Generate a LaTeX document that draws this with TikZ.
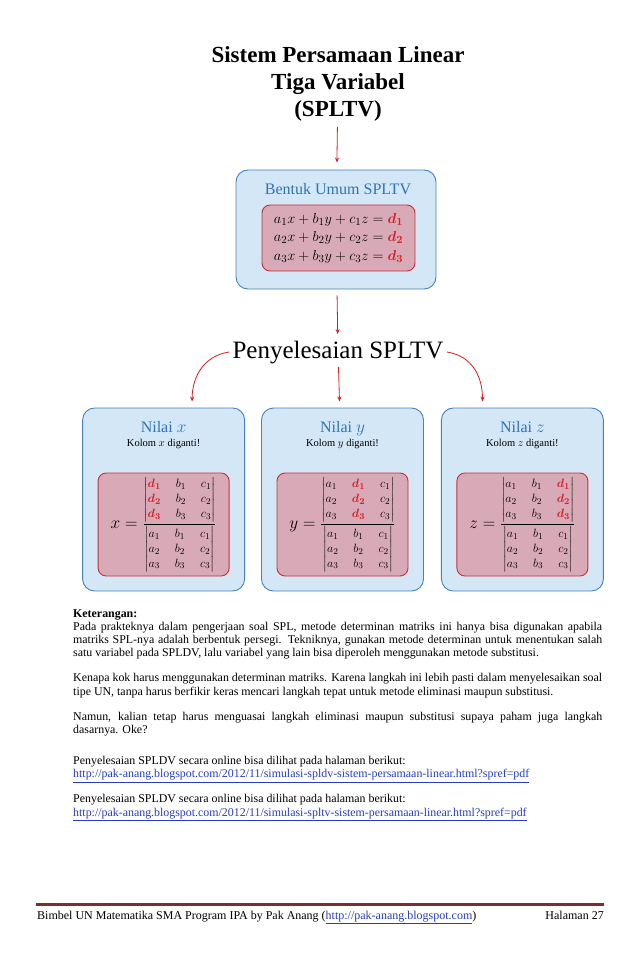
\documentclass[tikz,border=0pt]{standalone}
\usepackage{fontspec}
\setmainfont{Liberation Serif}
\usepackage{amsmath, amssymb}
\usetikzlibrary{positioning, arrows.meta, calc}

\definecolor{birumuda}{RGB}{212,231,246}
\definecolor{birugaris}{RGB}{70,130,190}
\definecolor{birujudul}{RGB}{46,116,181}
\definecolor{merahmuda}{RGB}{216,170,184}
\definecolor{merahgaris}{RGB}{205,45,55}
\definecolor{merahpanah}{RGB}{215,30,35}
\definecolor{tautanbiru}{RGB}{40,60,190}
\definecolor{coklat}{RGB}{125,45,45}

\newcommand{\dm}[1]{\textcolor{merahpanah}{\boldsymbol{d}_{\boldsymbol{#1}}}}
\newcommand{\detm}[1]{\text{\fontsize{12.5}{14.8}\selectfont\setlength{\arraycolsep}{7.5pt}$\begin{vmatrix}#1\end{vmatrix}$}}
\newcommand{\tautan}[1]{\textcolor{tautanbiru}{\underline{#1}}}

\begin{document}
\begin{tikzpicture}[x=1pt, y=-1pt, >={Stealth[length=5pt, width=4pt]},
    kotakbiru/.style={draw=birugaris, fill=birumuda, rounded corners=12pt, line width=0.9pt},
    kotakmerah/.style={draw=merahgaris, fill=merahmuda, rounded corners=8pt, line width=0.9pt},
    panah/.style={->, draw=merahpanah, line width=0.8pt},
    judulbiru/.style={text=birujudul, font=\fontsize{16}{19}\selectfont, anchor=base},
    kolom/.style={font=\fontsize{10.5}{12}\selectfont, anchor=base},
    rumus/.style={font=\fontsize{16}{19}\selectfont},
    ket/.style={anchor=base west, text width=529pt, align=justify, inner sep=0pt,
      font=\fontsize{11.9}{13.3}\selectfont},
    kaki/.style={font=\fontsize{12}{14}\selectfont, inner sep=0pt}]
  \useasboundingbox (0,0) rectangle (638,976);

  \node[font=\bfseries\fontsize{23}{27}\selectfont, align=center] (judul) at (338,84)
    {Sistem Persamaan Linear\\Tiga Variabel\\(SPLTV)};

  % bentuk umum
  \node[kotakbiru, minimum width=200pt, minimum height=119pt] (umum) at (336,229.5) {};
  \node[judulbiru] (judulumum) at (338,195) {Bentuk Umum SPLTV};
  \node[kotakmerah, minimum width=153pt, minimum height=66pt,
    font=\fontsize{15.8}{18.5}\selectfont] (sistem) at (338.5,238)
    {$\begin{array}{c}
      a_1x+b_1y+c_1z=\dm1\\
      a_2x+b_2y+c_2z=\dm2\\
      a_3x+b_3y+c_3z=\dm3
    \end{array}$};

  \node[font=\fontsize{25}{30}\selectfont, anchor=base] (penyelesaian) at (338,358) {Penyelesaian SPLTV};

  % tiga kotak nilai
  \node[kotakbiru, minimum width=162pt, minimum height=183pt] (nilaiy) at (342.5,499.5) {};
  \node[kotakbiru, minimum width=162pt, minimum height=183pt, left=16pt of nilaiy] (nilaix) {};
  \node[kotakbiru, minimum width=162pt, minimum height=183pt, right=17pt of nilaiy] (nilaiz) {};

  \node[judulbiru] (judulx) at ($(nilaix.north)+(0,25)$) {Nilai $x$};
  \node[judulbiru] (juduly) at ($(nilaiy.north)+(0,25)$) {Nilai $y$};
  \node[judulbiru] (judulz) at ($(nilaiz.north)+(0,25)$) {Nilai $z$};
  \node[kolom] (kolomx) at ($(nilaix.north)+(0,39)$) {Kolom $x$ diganti!};
  \node[kolom] (kolomy) at ($(nilaiy.north)+(0,39)$) {Kolom $y$ diganti!};
  \node[kolom] (kolomz) at ($(nilaiz.north)+(0,39)$) {Kolom $z$ diganti!};

  \node[kotakmerah, minimum width=131pt, minimum height=103pt] (detx) at ($(nilaix.center)+(0,25)$) {};
  \node[kotakmerah, minimum width=131pt, minimum height=103pt] (dety) at ($(nilaiy.center)+(0,25)$) {};
  \node[kotakmerah, minimum width=131pt, minimum height=103pt] (detz) at ($(nilaiz.center)+(0,25)$) {};

  \node[rumus] (rumusx) at (detx) {$x=\dfrac{\detm{\dm1 & b_1 & c_1\\ \dm2 & b_2 & c_2\\ \dm3 & b_3 & c_3}}
    {\detm{a_1 & b_1 & c_1\\ a_2 & b_2 & c_2\\ a_3 & b_3 & c_3}}$};
  \node[rumus] (rumusy) at (dety) {$y=\dfrac{\detm{a_1 & \dm1 & c_1\\ a_2 & \dm2 & c_2\\ a_3 & \dm3 & c_3}}
    {\detm{a_1 & b_1 & c_1\\ a_2 & b_2 & c_2\\ a_3 & b_3 & c_3}}$};
  \node[rumus] (rumusz) at (detz) {$z=\dfrac{\detm{a_1 & b_1 & \dm1\\ a_2 & b_2 & \dm2\\ a_3 & b_3 & \dm3}}
    {\detm{a_1 & b_1 & c_1\\ a_2 & b_2 & c_2\\ a_3 & b_3 & c_3}}$};

  % panah
  \path (judul) edge[panah, shorten <=2pt, shorten >=7pt] (umum)
    (umum) edge[panah, shorten <=6pt, shorten >=3pt] (penyelesaian)
    (penyelesaian) edge[panah, shorten >=6pt] (nilaiy);
  \draw[panah, shorten >=6pt] (penyelesaian.west) .. controls +(-26,4) and +(0,-30) ..
    ($(nilaix.north)!0.35!(nilaix.north east)$);
  \draw[panah, shorten >=6pt] (penyelesaian.east) .. controls +(26,4) and +(0,-30) ..
    ($(nilaiz.north)!0.49!(nilaiz.north west)$);

  % keterangan
  \node[ket] (keterangan) at (73,617) {\hyphenpenalty=10000
    \textbf{Keterangan:}\par
    Pada prakteknya dalam pengerjaan soal SPL, metode determinan matriks ini hanya bisa digunakan apabila\linebreak
    matriks SPL-nya adalah berbentuk persegi. Tekniknya, gunakan metode determinan untuk menentukan salah\linebreak
    satu variabel pada SPLDV, lalu variabel yang lain bisa diperoleh menggunakan metode substitusi.\par\vspace{11.7pt}
    Kenapa kok harus menggunakan determinan matriks. Karena langkah ini lebih pasti dalam menyelesaikan soal\linebreak
    tipe UN, tanpa harus berfikir keras mencari langkah tepat untuk metode eliminasi maupun substitusi.\par\vspace{11.7pt}
    Namun, kalian tetap harus menguasai langkah eliminasi maupun substitusi supaya paham juga langkah\linebreak
    dasarnya. Oke?\par\vspace{17.7pt}
    Penyelesaian SPLDV secara online bisa dilihat pada halaman berikut:\par
    \tautan{http://pak-anang.blogspot.com/2012/11/simulasi-spldv-sistem-persamaan-linear.html?spref=pdf}\par\vspace{11.7pt}
    Penyelesaian SPLDV secara online bisa dilihat pada halaman berikut:\par
    \tautan{http://pak-anang.blogspot.com/2012/11/simulasi-spltv-sistem-persamaan-linear.html?spref=pdf}};

  % kaki halaman
  \draw[coklat, line width=3pt] (36,904) -- (604,904);
  \node[kaki, anchor=base west] (kaki) at (37,919)
    {Bimbel UN Matematika SMA Program IPA by Pak Anang (\tautan{http://pak-anang.blogspot.com})};
  \node[kaki, anchor=base east] (halaman) at (604,919) {Halaman 27};
\end{tikzpicture}
\end{document}
